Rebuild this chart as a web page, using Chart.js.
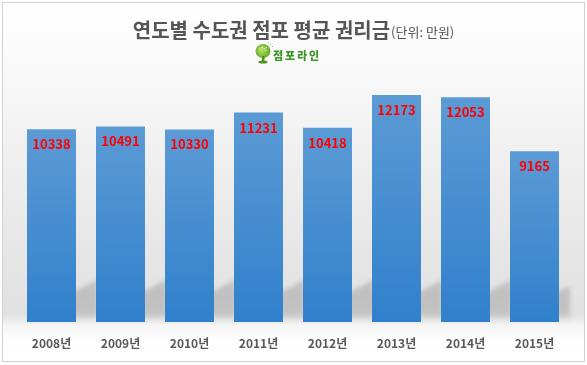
<!DOCTYPE html>
<html>
<head>
<meta charset="utf-8">
<script src="https://cdn.jsdelivr.net/npm/chart.js@4/dist/chart.umd.min.js"></script>
<style>
html,body{margin:0;padding:0;background:#fff;}
canvas{display:block;}
</style>
</head>
<body>
<canvas id="c" width="587" height="365"></canvas>
<script>
const categories = ['2008년','2009년','2010년','2011년','2012년','2013년','2014년','2015년'];
const values = [10338, 10491, 10330, 11231, 10418, 12173, 12053, 9165];
const yMin = 0;
const yMax = 14000;
const titleMain = '연도별 수도권 점포 평균 권리금';
const titleUnit = '(단위: 만원)';
const logoText = '점포라인';

const FONT = '"Noto Sans CJK KR", "Noto Sans", sans-serif';

const backgroundPlugin = {
  id: 'bg',
  beforeDraw(chart) {
    const ctx = chart.ctx;
    ctx.save();
    ctx.fillStyle = '#ffffff';
    ctx.fillRect(0, 0, chart.width, chart.height);
    const g = ctx.createLinearGradient(0, 2, 0, 361);
    g.addColorStop(0, '#ffffff');
    g.addColorStop(60/359, '#fafafa');
    g.addColorStop(150/359, '#f0f0f0');
    g.addColorStop(250/359, '#e6e6e6');
    g.addColorStop(312/359, '#e1e1e1');
    g.addColorStop(324/359, '#f6f6f6');
    g.addColorStop(340/359, '#fefefe');
    g.addColorStop(1, '#ffffff');
    ctx.fillStyle = g;
    ctx.fillRect(2, 2, 582, 359);
    ctx.strokeStyle = '#d2d2d2';
    ctx.lineWidth = 1;
    ctx.strokeRect(2.5, 2.5, 582, 359);

    // title
    ctx.textBaseline = 'middle';
    ctx.fillStyle = '#555555';
    const f1 = 'bold 20px ' + FONT;
    const f2 = '13px ' + FONT;
    ctx.font = f1;
    const w1 = ctx.measureText(titleMain).width;
    ctx.font = f2;
    const w2 = ctx.measureText(titleUnit).width;
    const x0 = chart.width / 2 - (w1 + 1 + w2) / 2;
    ctx.textAlign = 'left';
    ctx.font = f1;
    ctx.fillText(titleMain, x0, 30);
    ctx.font = f2;
    ctx.fillText(titleUnit, x0 + w1 + 1, 32);

    // logo icon
    const cx = 263, cy = 51;
    const lg = ctx.createRadialGradient(cx - 2, cy - 2, 1, cx, cy, 8);
    lg.addColorStop(0, '#b5e06a');
    lg.addColorStop(1, '#5fa81e');
    ctx.fillStyle = lg;
    ctx.beginPath();
    ctx.ellipse(cx, cy, 7.5, 7, 0, 0, Math.PI * 2);
    ctx.fill();
    ctx.fillStyle = '#4e8f1a';
    ctx.fillRect(cx - 1, cy + 5, 2.5, 6);
    ctx.beginPath();
    ctx.ellipse(cx, cy + 11, 4.5, 1.5, 0, 0, Math.PI * 2);
    ctx.fill();
    ctx.fillStyle = '#ffffff';
    [[cx + 1, cy - 3], [cx + 3, cy - 4], [cx - 1, cy - 4], [cx + 2, cy - 1]].forEach(p => {
      ctx.fillRect(p[0], p[1], 1, 1);
    });
    ctx.fillStyle = '#8dc63f';
    [[cx + 7, cy - 7], [cx + 9, cy - 5], [cx + 5, cy - 9]].forEach(p => {
      ctx.fillRect(p[0], p[1], 1, 1);
    });
    // logo text
    ctx.fillStyle = '#3a9628';
    ctx.font = '900 11px ' + FONT;
    ctx.textBaseline = 'middle';
    for (let i = 0; i < logoText.length; i++) {
      ctx.fillText(logoText[i], 273 + i * 12, 56);
    }
    ctx.restore();
  }
};

const shadowPlugin = {
  id: 'barShadow',
  beforeDatasetsDraw(chart) {
    const ctx = chart.ctx;
    const meta = chart.getDatasetMeta(0);
    ctx.save();
    ctx.filter = 'blur(2px)';
    meta.data.forEach((el, i) => {
      const x1 = el.x + el.width / 2;
      const base = el.base;
      const last = i === meta.data.length - 1;
      const w = last ? 11 : 22;
      const g = ctx.createLinearGradient(0, base - 50, 0, base);
      g.addColorStop(0, '#c8c8c8');
      g.addColorStop(0.4, '#c0c0c0');
      g.addColorStop(0.82, '#c2c2c2');
      g.addColorStop(1, '#ececec');
      ctx.fillStyle = g;
      ctx.beginPath();
      ctx.moveTo(x1 - 4, base - 1);
      ctx.lineTo(x1 - 4, base - 29);
      ctx.lineTo(x1 + w, base - 29 - w * 0.62);
      ctx.lineTo(x1 + w, base - 1);
      ctx.closePath();
      ctx.fill();
    });
    ctx.restore();
  }
};

const labelPlugin = {
  id: 'valueLabels',
  afterDatasetsDraw(chart) {
    const ctx = chart.ctx;
    const meta = chart.getDatasetMeta(0);
    ctx.save();
    ctx.fillStyle = '#ff0000';
    ctx.font = 'bold 13px ' + FONT;
    ctx.textAlign = 'center';
    ctx.textBaseline = 'middle';
    meta.data.forEach((el, i) => {
      ctx.fillText(String(values[i]), el.x, el.y + 15);
    });
    ctx.restore();
  }
};

new Chart(document.getElementById('c'), {
  type: 'bar',
  data: {
    labels: categories,
    datasets: [{
      data: values,
      backgroundColor: (c) => {
        const chart = c.chart;
        if (!chart.chartArea || c.raw === undefined) return '#4a8fd2';
        const y = chart.scales.y;
        const top = y.getPixelForValue(c.raw);
        const bottom = y.getPixelForValue(0);
        const g = chart.ctx.createLinearGradient(0, top, 0, bottom);
        g.addColorStop(0, '#5b9bd5');
        g.addColorStop(1, '#3180cc');
        return g;
      },
      borderWidth: 0,
      barPercentage: 0.71,
      categoryPercentage: 1.0
    }]
  },
  options: {
    responsive: false,
    animation: false,
    devicePixelRatio: 1,
    layout: { padding: { top: 61, left: 17, right: 18, bottom: 0 } },
    plugins: { legend: { display: false }, tooltip: { enabled: false }, title: { display: false } },
    scales: {
      x: {
        grid: { display: false, drawTicks: false },
        border: { display: false },
        ticks: {
          color: '#595959',
          font: { family: FONT, size: 12, weight: 'bold' },
          padding: 14,
          maxRotation: 0
        },
        afterFit: (s) => { s.height = 43; }
      },
      y: {
        display: false,
        min: yMin,
        max: yMax
      }
    }
  },
  plugins: [backgroundPlugin, shadowPlugin, labelPlugin]
});
</script>
</body>
</html>
